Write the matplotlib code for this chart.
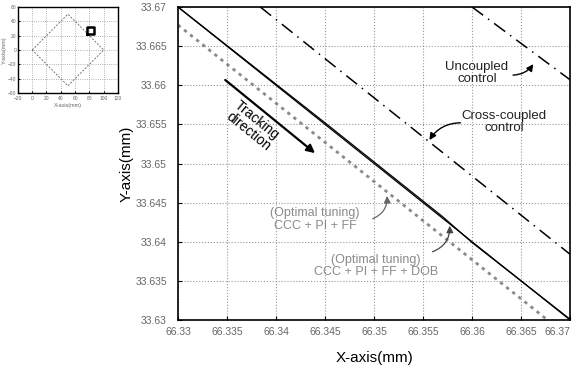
import numpy as np
import matplotlib
matplotlib.use("Agg")
import matplotlib.pyplot as plt
from matplotlib.ticker import FormatStrFormatter

plt.rcParams['font.family'] = ['Liberation Sans', 'DejaVu Sans']

# main view limits / ticks
xTicks = [66.33, 66.335, 66.34, 66.345, 66.35, 66.355, 66.36, 66.365, 66.37]
yTicks = [33.63, 33.635, 33.64, 33.645, 33.65, 33.655, 33.66, 33.665, 33.67]

# contour responses (end points)
refX = [66.33, 66.37]
refY = [33.67, 33.63]
dobX = [66.33, 66.345, 66.357, 66.36, 66.37]
dobY = [33.67, 33.6552, 33.6432, 33.6399, 33.6301]
ffX = [66.33, 66.3677]
ffY = [33.6677, 33.63]
cccX = [66.3384, 66.37]
cccY = [33.67, 33.6384]
uncX = [66.360, 66.37]
uncY = [33.67, 33.6607]

# inset: full diamond path and zoom box
diaX = [0, 50, 100, 50, 0]
diaY = [0, 50, 0, -50, 0]
boxX = [77, 87, 87, 77, 77]
boxY = [22, 22, 32, 32, 22]
insetXTicks = [-20, 0, 20, 40, 60, 80, 100, 120]
insetYTicks = [-60, -40, -20, 0, 20, 40, 60]

fig = plt.figure(figsize=(5.77, 3.69), dpi=100)
ax = fig.add_axes([0.3085, 0.1328, 0.6795, 0.8482])

ax.plot(ffX, ffY, color='#8a8a8a', lw=2.0, ls=(0, (1.2, 1.6)))
ax.plot(refX, refY, color='black', lw=0.9)
ax.plot(dobX, dobY, color='black', lw=0.9)
ax.plot(cccX, cccY, color='black', lw=1.1, ls=(0, (9, 4, 1, 4)))
ax.plot(uncX, uncY, color='black', lw=1.1, ls=(0, (9, 4, 1, 4)))

ax.set_xlim(66.33, 66.37)
ax.set_ylim(33.63, 33.67)
ax.set_xticks(xTicks)
ax.set_yticks(yTicks)
ax.xaxis.set_major_formatter(FormatStrFormatter('%g'))
ax.yaxis.set_major_formatter(FormatStrFormatter('%g'))
ax.tick_params(labelsize=7.5, labelcolor='#666666', direction='in', length=3)
ax.tick_params(axis='y', pad=8)
ax.tick_params(axis='x', pad=5)
ax.get_xticklabels()[-1].set_horizontalalignment('right')
ax.grid(True, ls=':', color='#999999', lw=0.8)
for s in ax.spines.values():
    s.set_linewidth(1.2)
ax.set_xlabel('X-axis(mm)', fontsize=11, labelpad=10)
ax.set_ylabel('Y-axis(mm)', fontsize=11, labelpad=1)

# tracking direction
ax.annotate('', xy=(66.3442, 33.6511), xytext=(66.3346, 33.6609),
            arrowprops=dict(arrowstyle='-|>', color='black', lw=1.6, mutation_scale=12))
ax.text(66.3376, 33.6548, 'Tracking\ndirection', rotation=-39, fontsize=10,
        ha='center', va='center', linespacing=1.0, rotation_mode='anchor')

ax.text(66.3605, 33.6616, 'Uncoupled\ncontrol', fontsize=9.5, ha='center', va='center',
        color='#222222', linespacing=1.0)
ax.annotate('', xy=(66.3664, 33.6630), xytext=(66.3639, 33.6613),
            arrowprops=dict(arrowstyle='-|>', color='black', lw=1.0,
                            connectionstyle='arc3,rad=0.3'))

ax.text(66.3633, 33.6553, 'Cross-coupled\ncontrol', fontsize=9.5, ha='center', va='center',
        color='#222222', linespacing=1.0)
ax.annotate('', xy=(66.3555, 33.6527), xytext=(66.3591, 33.6552),
            arrowprops=dict(arrowstyle='-|>', color='black', lw=1.0,
                            connectionstyle='arc3,rad=0.3'))

ax.text(66.3440, 33.6429, '(Optimal tuning)\nCCC + PI + FF', fontsize=9, ha='center',
        va='center', color='#8a8a8a', linespacing=1.1)
ax.annotate('', xy=(66.3513, 33.6462), xytext=(66.3496, 33.6428),
            arrowprops=dict(arrowstyle='-|>', color='#666666', lw=0.9,
                            connectionstyle='arc3,rad=0.4'))

ax.text(66.3502, 33.6369, '(Optimal tuning)\nCCC + PI + FF + DOB', fontsize=9, ha='center',
        va='center', color='#8a8a8a', linespacing=1.1)
ax.annotate('', xy=(66.3577, 33.6424), xytext=(66.3557, 33.6386),
            arrowprops=dict(arrowstyle='-|>', color='#444444', lw=0.9,
                            connectionstyle='arc3,rad=0.4'))

# inset of whole contour
ins = fig.add_axes([0.031, 0.748, 0.1735, 0.233])
ins.plot(diaX, diaY, color='#777777', lw=0.7, ls=(0, (2, 1.5)))
ins.plot(boxX, boxY, color='black', lw=1.8)
ins.set_xlim(-20, 120)
ins.set_ylim(-60, 60)
ins.set_xticks(insetXTicks)
ins.set_yticks(insetYTicks)
ins.tick_params(labelsize=3.5, labelcolor='#666666', direction='in', length=1.5, pad=1)
ins.tick_params(axis='x', pad=2.5)
ins.grid(True, ls=':', color='#999999', lw=0.6)
ins.set_xlabel('X-axis(mm)', fontsize=4, labelpad=1, color='#666666')
ins.set_ylabel('Y-axis(mm)', fontsize=4, labelpad=1, color='#666666')
for s in ins.spines.values():
    s.set_linewidth(1.0)

fig.savefig('out.png', dpi=100)
